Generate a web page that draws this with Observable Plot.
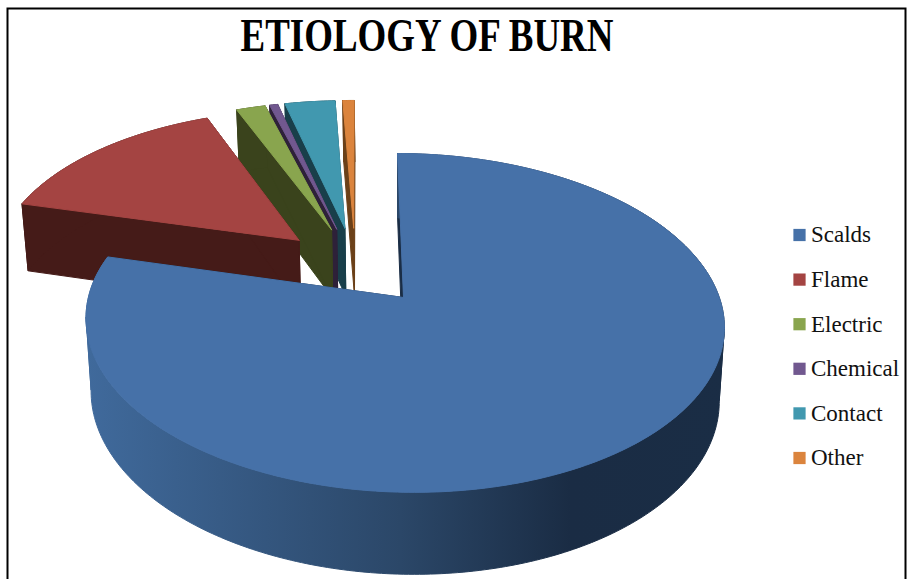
<!DOCTYPE html>
<html>
<head>
<meta charset="utf-8">
<script src="https://cdn.jsdelivr.net/npm/d3@7"></script>
<script src="https://cdn.jsdelivr.net/npm/@observablehq/plot@0.6"></script>
<style>
  html, body { margin: 0; padding: 0; background: #fff; overflow: hidden; }
  #chart { position: relative; width: 907px; height: 579px; }
  #title {
    position: absolute; left: 0; top: 8px; width: 854px; text-align: center;
    font: bold 46px/56px "Liberation Serif", serif; color: #000;
    transform: scaleX(0.803); transform-origin: 427px 0; white-space: nowrap;
  }
</style>
</head>
<body>
<div id="chart"><div id="title">ETIOLOGY OF BURN</div></div>
<script>
// Share of burn admissions by cause, in percent
const categories = ["Scalds", "Flame", "Electric", "Chemical", "Contact", "Other"];
const shares = [79, 14.9, 1.8, 0.5, 3.1, 0.7];
const topColors = ["#4671A8", "#A44442", "#89A54E", "#71588F", "#4198AF", "#DB843D"];
const wallColors = ["#1A2D45", "#451B18", "#3A431C", "#2E2139", "#193F4A", "#6B4018"];

// Rim shading of the largest slice, by horizontal position
const rimShadeX = [85, 400, 570, 730];
const rimShades = ["#406A9C", "#2B4768", "#1A2C44", "#1A2D45"];

// Tilted-disc view of the pie
const view = {cx: 403, cy: 297, rx: 315.5, ry: 165.6, persp: 0.15, sideways: -0.002,
              shearX: -6.9, shearY: -1, depth: 72, taper: 0.984, explode: 0.25};

function project(u, v, lower) {
  const w = 1 + view.persp * v + view.sideways * u;
  let x = view.cx + (view.rx * u + view.shearX * v) / w;
  let y = view.cy - (view.ry * v + view.shearY * u) / w;
  if (lower) {
    x = view.cx + (x - view.cx) * view.taper;
    y += view.depth / Math.pow(w, 0.8);
  }
  return [x, y];
}

// Slice angles, clockwise from twelve o'clock
const total = d3.sum(shares);
let running = 0;
const slices = categories.map((name, i) => {
  const a0 = running / total * 2 * Math.PI;
  running += shares[i];
  const a1 = running / total * 2 * Math.PI;
  return {name, i, a0, a1, mid: (a0 + a1) / 2};
});
// The whole pie is pulled apart; the largest slice stays at the view's anchor
const anchor = [Math.sin(slices[0].mid), Math.cos(slices[0].mid)].map(d => d * view.explode);
slices.forEach(s => {
  s.ou = Math.sin(s.mid) * view.explode - anchor[0];
  s.ov = Math.cos(s.mid) * view.explode - anchor[1];
});

function rimAngles(s) {
  const n = Math.max(2, Math.ceil((s.a1 - s.a0) / 0.015));
  return d3.range(n + 1).map(k => s.a0 + (s.a1 - s.a0) * k / n);
}
const rimPoint = (s, a, lower) => project(s.ou + Math.sin(a), s.ov + Math.cos(a), lower);
const apexPoint = (s, lower) => project(s.ou, s.ov, lower);

// Horizontal gradient used on the rim of the largest slice
const rimGradient = () => {
  const g = d3.create("svg:linearGradient")
    .attr("id", "rimShade")
    .attr("gradientUnits", "userSpaceOnUse")
    .attr("x1", rimShadeX[0]).attr("x2", rimShadeX[rimShadeX.length - 1])
    .attr("y1", 0).attr("y2", 0);
  const span = rimShadeX[rimShadeX.length - 1] - rimShadeX[0];
  rimShadeX.forEach((x, i) => g.append("stop")
    .attr("offset", (x - rimShadeX[0]) / span)
    .attr("stop-color", rimShades[i]));
  return g.node();
};

// Faces are painted back to front: small slices first, the largest last
const faces = [];
let faceId = 0;
function addFace(points, color) {
  const id = faceId++;
  points.concat([points[0]]).forEach(p => faces.push({id, x: p[0], y: p[1], color}));
}
[5, 4, 3, 2, 1, 0].forEach(i => {
  const s = slices[i];
  const angles = rimAngles(s);
  // the two radial walls
  [s.a0, s.a1].forEach(a => addFace(
    [apexPoint(s, false), rimPoint(s, a, false), rimPoint(s, a, true), apexPoint(s, true)],
    wallColors[i]
  ));
  // outer rim, cut at the left and right silhouette so the band never folds over itself
  const rimX = angles.map(a => rimPoint(s, a, false)[0]);
  const cuts = [...new Set([0, d3.minIndex(rimX), d3.maxIndex(rimX), angles.length - 1])].sort(d3.ascending);
  d3.pairs(cuts).forEach(([from, to]) => {
    const part = angles.slice(from, to + 1);
    addFace(
      [...part.map(a => rimPoint(s, a, false)), ...part.slice().reverse().map(a => rimPoint(s, a, true))],
      i === 0 ? "url(#rimShade)" : wallColors[i]
    );
  });
  // top surface
  addFace([apexPoint(s, false), ...angles.map(a => rimPoint(s, a, false))], topColors[i]);
});

// Legend rows
const legendRows = categories.map((name, i) => ({
  name, color: topColors[i], x: 799, y: 234.5 + i * 44.6
}));

const plot = Plot.plot({
  width: 907,
  height: 579,
  margin: 0,
  x: {domain: [0, 907], range: [0, 907], axis: null},
  y: {domain: [0, 579], range: [0, 579], axis: null},
  color: {type: "identity"},
  marks: [
    rimGradient,
    Plot.line(faces, {
      x: "x", y: "y", z: "id", fill: "color", stroke: "color",
      strokeWidth: 1, curve: "linear"
    }),
    Plot.dot(legendRows, {
      x: "x", y: "y", symbol: "square", r: 6.9, fill: "color"
    }),
    Plot.text(legendRows, {
      x: "x", y: "y", text: "name", dx: 11.5, textAnchor: "start", fill: "#111",
      fontSize: 23, fontFamily: "Liberation Serif, serif"
    }),
    Plot.frame({
      stroke: "#000", strokeWidth: 2,
      insetLeft: 7, insetTop: 8, insetRight: 2, insetBottom: -6
    })
  ]
});
document.getElementById("chart").appendChild(plot);
</script>
</body>
</html>
